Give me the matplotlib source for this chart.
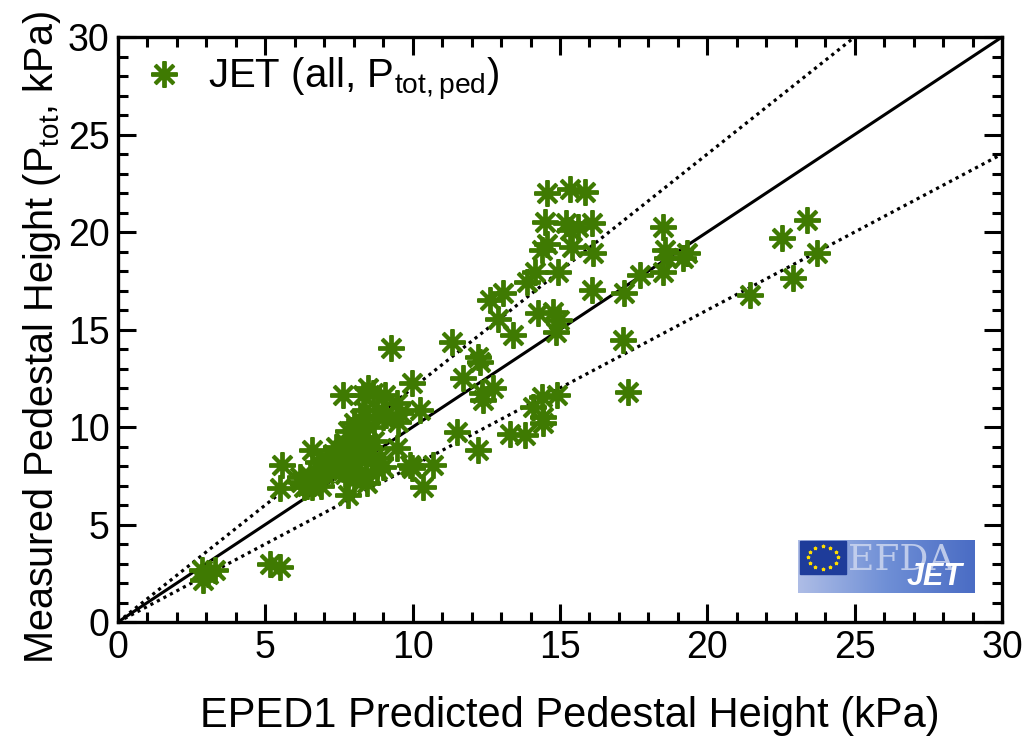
import matplotlib
matplotlib.use('Agg')
import matplotlib.pyplot as plt
import numpy as np
from matplotlib.patches import Rectangle
from matplotlib.colors import LinearSegmentedColormap
from matplotlib.ticker import MultipleLocator

plt.rcParams['font.family'] = ['Liberation Sans', 'DejaVu Sans']
plt.rcParams['mathtext.default'] = 'regular'

# EPED1 predicted vs measured pedestal pressure (kPa), JET shots
eped_pred = [
    2.84, 3.29, 2.90, 3.05, 5.16, 5.50,
    5.50, 5.55, 6.18, 6.63, 6.57, 7.08, 7.82,
    6.2, 6.4, 6.5, 6.7, 6.9, 7.0, 6.3, 6.8, 7.1, 6.6,
    7.5, 7.6, 7.7, 7.8, 7.9, 7.9, 8.0, 8.0, 8.1, 8.1, 8.2, 8.2, 8.3, 8.3,
    8.4, 8.5, 8.5, 8.6, 7.7, 7.4, 7.3, 8.0, 7.8, 8.7, 8.9, 7.6, 8.2, 8.4,
    7.2, 8.0,
    8.44, 8.78, 9.0, 9.97, 10.70, 10.36, 9.46, 9.90,
    7.65, 8.49, 8.32, 9.06, 9.97, 9.46, 10.25, 8.38, 8.78, 9.11, 9.51,
    8.66, 9.0, 9.57,
    9.28, 11.32, 11.72, 12.74, 12.34, 12.40, 12.23, 12.28, 11.49, 12.23,
    12.62, 13.07, 12.90, 13.41,
    13.30, 13.81, 14.09, 14.38, 14.89, 14.43, 14.43,
    14.15, 13.87, 14.94, 14.26, 14.75, 14.98, 14.86,
    14.55, 15.34, 15.85, 14.49, 15.22, 15.62, 16.07, 15.34, 14.55, 14.38,
    15.39, 16.13,
    16.07, 17.18, 17.71, 17.15, 17.32,
    18.50, 18.56, 18.62, 19.30, 19.18, 18.50,
    21.45, 22.52, 23.39, 23.71, 22.91,
]
measured = [
    2.67, 2.67, 2.15, 2.45, 3.00, 2.84,
    6.86, 8.05, 7.46, 7.11, 8.82, 7.79, 6.51,
    7.2, 7.0, 7.5, 7.3, 7.0, 7.6, 6.9, 8.2, 8.3, 6.9,
    8.3, 8.8, 9.2, 8.0, 8.6, 9.4, 9.0, 8.2, 9.7, 8.5, 9.1, 7.7, 8.8, 9.5,
    8.3, 9.0, 10.0, 8.6, 7.6, 9.0, 8.6, 10.2, 9.8, 9.3, 8.4, 7.9, 10.4, 7.5,
    7.9, 7.3,
    7.11, 7.79, 7.97, 7.88, 8.05, 6.94, 8.90, 8.05,
    11.64, 11.98, 11.64, 11.64, 12.24, 11.21, 10.87, 10.87, 10.87, 10.62, 10.27,
    11.73, 10.50, 10.70,
    14.03, 14.37, 12.50, 11.98, 11.73, 11.38, 13.60, 13.35, 9.76, 8.82,
    16.51, 16.86, 15.56, 14.72,
    9.66, 9.59, 11.04, 11.55, 11.64, 10.53, 10.19,
    17.96, 17.45, 17.96, 15.83, 15.91, 15.49, 14.89,
    21.98, 22.20, 22.07, 20.50, 20.44, 20.27, 20.44, 20.10, 19.40, 19.08,
    19.21, 18.90,
    17.03, 16.86, 17.79, 14.46, 11.81,
    20.27, 19.08, 18.65, 18.90, 18.65, 17.96,
    16.77, 19.68, 20.62, 18.90, 17.62,
]

green = '#3f7a02'

fig = plt.figure(figsize=(10.25, 7.39), dpi=100)
ax = fig.add_axes([0.1151, 0.1583, 0.8625, 0.7916])

line_x = np.array([0, 30])
ax.plot(line_x, line_x, color='black', lw=2.2, zorder=3)
ax.plot(line_x, 1.2 * line_x, color='black', lw=2.3, ls=(0, (1, 1.3)), zorder=3)
ax.plot(line_x, 0.8 * line_x, color='black', lw=2.3, ls=(0, (1, 1.3)), zorder=3)

ax.plot(eped_pred, measured, ls='none', marker=(8, 2, 0), ms=19, mew=2.8,
        color=green, zorder=4, label='JET (all, P$_{tot,ped}$)')

ax.set_xlim(0, 30)
ax.set_ylim(0, 30)
ax.xaxis.set_major_locator(MultipleLocator(5))
ax.yaxis.set_major_locator(MultipleLocator(5))
ax.xaxis.set_minor_locator(MultipleLocator(1))
ax.yaxis.set_minor_locator(MultipleLocator(1))
ax.tick_params(which='both', direction='in', top=True, right=True, width=2.2)
ax.tick_params(which='major', length=13, labelsize=27, pad=6)
ax.tick_params(which='minor', length=7)
for s in ax.spines.values():
    s.set_linewidth(2.4)

ax.set_xlabel('EPED1 Predicted Pedestal Height (kPa)', fontsize=30)
ax.set_ylabel('Measured Pedestal Height (P$_{tot}$, kPa)', fontsize=28.5)
ax.xaxis.set_label_coords(0.511, -0.127)
ax.yaxis.set_label_coords(-0.062, 0.487)

leg = ax.legend(loc='upper left', frameon=False, fontsize=29, handletextpad=0.3,
                borderaxespad=0.25, handlelength=1.6, bbox_to_anchor=(-0.014, 1.012))

# EFDA-JET logo in the lower right corner
lax = fig.add_axes([798 / 1025, 1 - 593 / 739, 177 / 1025, 53 / 739])
grad = np.linspace(0, 1, 256).reshape(1, -1)
cmap = LinearSegmentedColormap.from_list('logo', ['#aebde6', '#6f8fd6', '#4a6cc4'])
lax.imshow(grad, extent=[0, 1, 0, 1], aspect='auto', cmap=cmap)
lax.add_patch(Rectangle((0.01, 0.36), 0.26, 0.62, color='#1e3c9a'))
ang = np.linspace(0, 2 * np.pi, 12, endpoint=False)
lax.scatter(0.14 + 0.085 * np.cos(ang), 0.67 + 0.21 * np.sin(ang), s=4,
            color='#ffdd00', marker='*', zorder=3)
lax.text(0.28, 0.62, 'EFDA', fontsize=26, family='DejaVu Serif', color='#c8d3ee',
         ha='left', va='center', alpha=0.9)
lax.text(0.93, 0.3, 'JET', fontsize=22, fontweight='bold', style='italic',
         color='white', ha='right', va='center')
lax.set_xlim(0, 1)
lax.set_ylim(0, 1)
lax.axis('off')

fig.savefig('out.png', dpi=100)
